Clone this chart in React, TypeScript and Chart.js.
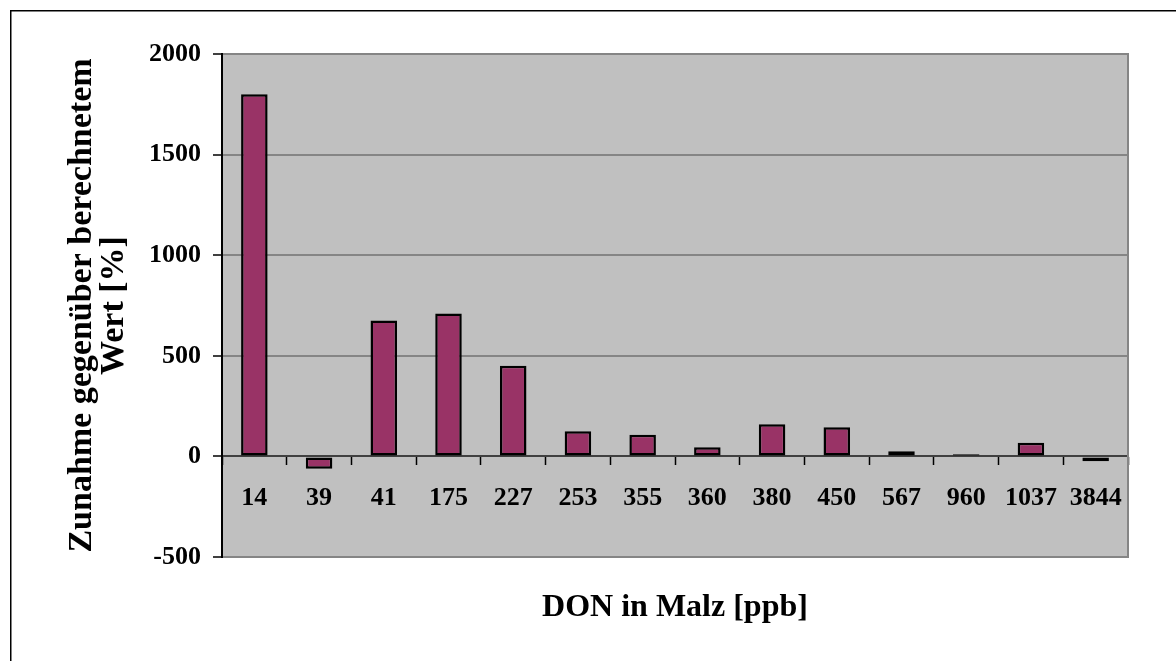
import React, { useEffect, useRef } from 'react';
import { Chart, registerables } from 'chart.js';

Chart.register(...registerables);

const categories = ['14', '39', '41', '175', '227', '253', '355', '360', '380', '450', '567', '960', '1037', '3844'];
const increaseValues = [1800, -62, 675, 710, 450, 125, 108, 45, 160, 145, 25, 11, 68, -24];
const yTickValues = [-500, 0, 500, 1000, 1500, 2000];
const xTitle = 'DON in Malz [ppb]';
const yTitleLines = ['Zunahme gegenüber berechnetem', 'Wert [%]'];

const FONT = '"Liberation Serif", "Times New Roman", serif';

export default function App() {
  const ref = useRef<HTMLCanvasElement>(null);

  useEffect(() => {
    if (!ref.current) return;

    const decor = {
      id: 'decor',
      beforeDraw(chart: any) {
        const { ctx, chartArea: a } = chart;
        ctx.save();
        ctx.fillStyle = '#ffffff';
        ctx.fillRect(0, 0, chart.width, chart.height);
        ctx.strokeStyle = '#000000';
        ctx.lineWidth = 1.5;
        ctx.beginPath();
        ctx.moveTo(10.75, chart.height);
        ctx.lineTo(10.75, 10.75);
        ctx.lineTo(chart.width, 10.75);
        ctx.stroke();
        ctx.fillStyle = '#c0c0c0';
        ctx.fillRect(a.left, a.top, a.right - a.left, a.bottom - a.top);
        ctx.restore();
      },
      beforeDatasetsDraw(chart: any) {
        const { ctx, chartArea: a } = chart;
        ctx.save();
        ctx.strokeStyle = '#858585';
        ctx.lineWidth = 2;
        ctx.beginPath();
        ctx.moveTo(a.right, a.top - 1);
        ctx.lineTo(a.right, a.bottom + 1);
        ctx.stroke();
        ctx.restore();
      },
      afterDraw(chart: any) {
        const { ctx, chartArea: a } = chart;
        ctx.save();
        ctx.fillStyle = '#000000';
        ctx.textAlign = 'center';
        ctx.textBaseline = 'alphabetic';
        ctx.font = `bold 32px ${FONT}`;
        ctx.fillText(xTitle, (a.left + a.right) / 2, 616);
        ctx.font = `bold 34px ${FONT}`;
        const cy = (a.top + a.bottom) / 2;
        const baselines = [91, 123];
        yTitleLines.forEach((line, i) => {
          ctx.save();
          ctx.translate(baselines[i], cy);
          ctx.rotate(-Math.PI / 2);
          ctx.fillText(line, 0, 0);
          ctx.restore();
        });
        ctx.restore();
      },
    };

    const chart = new Chart(ref.current, {
      type: 'bar',
      data: {
        labels: categories,
        datasets: [
          {
            data: increaseValues,
            backgroundColor: '#993366',
            borderColor: '#000000',
            borderWidth: 2.5,
            borderSkipped: false,
            categoryPercentage: 1,
            barPercentage: 0.41,
          },
        ],
      },
      options: {
        responsive: false,
        animation: false,
        layout: { padding: { left: 0, top: 54, right: 48, bottom: 104 } },
        plugins: {
          legend: { display: false },
          tooltip: { enabled: false },
          title: { display: false },
        },
        scales: {
          x: {
            type: 'category',
            position: { y: 0 } as any,
            grid: {
              offset: true,
              drawOnChartArea: false,
              drawTicks: true,
              tickLength: 8,
              tickColor: '#000000',
              tickWidth: 1.5,
            },
            border: { display: true, color: '#404040', width: 2 },
            ticks: {
              color: '#000000',
              font: { family: FONT, size: 26, weight: 'bold' },
              padding: 18,
              maxRotation: 0,
              autoSkip: false,
            },
          },
          y: {
            min: -500,
            max: 2000,
            afterFit(scale: any) {
              scale.width = 222;
            },
            afterBuildTicks(scale: any) {
              scale.ticks = yTickValues.map((v) => ({ value: v }));
            },
            grid: {
              color: '#858585',
              lineWidth: 2,
              drawTicks: true,
              tickLength: 9,
              tickColor: '#000000',
              tickWidth: 1.5,
            },
            border: { display: true, color: '#000000', width: 2 },
            ticks: {
              color: '#000000',
              font: { family: FONT, size: 26, weight: 'bold' },
              padding: 12,
              callback: (value: any) => String(value),
            },
          },
        },
      },
      plugins: [decor],
    });

    return () => chart.destroy();
  }, []);

  return (
    <div style={{ position: 'absolute', left: 0, top: 0, width: 1176, height: 661, overflow: 'hidden' }}>
      <canvas ref={ref} width={1176} height={661} style={{ display: 'block' }} />
    </div>
  );
}
